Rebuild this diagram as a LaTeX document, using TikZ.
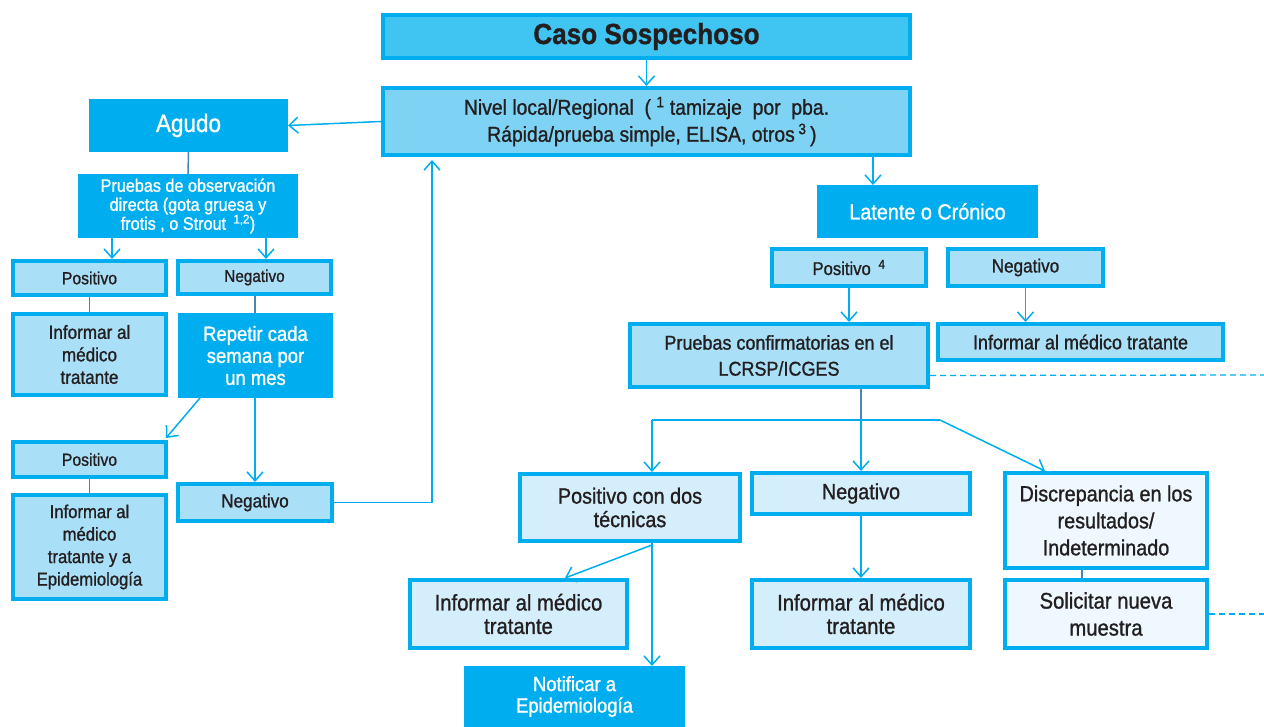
\documentclass[tikz,border=0pt]{standalone}
\usepackage{fontspec}
\setmainfont[FakeStretch=0.9,FakeBold=1.1]{Liberation Sans}
\usetikzlibrary{arrows.meta,calc}
\definecolor{cyanD}{HTML}{00AEEF}
\definecolor{casoF}{HTML}{40C4F2}
\definecolor{nivelF}{HTML}{7ED3F5}
\definecolor{lightF}{HTML}{A9E0F8}
\definecolor{lighterF}{HTML}{D5EEFB}
\definecolor{lightestF}{HTML}{EEF8FE}
\definecolor{stemC}{HTML}{4A86B4}
\definecolor{ink}{HTML}{231F20}
\newcommand\fs[2]{\fontsize{#1}{#2}\selectfont}
\tikzset{
  base/.style={rectangle, align=center, inner sep=2pt, text=ink, draw=cyanD, line width=4pt},
  solidbox/.style={base, fill=cyanD, text=white, line width=0pt, draw=none},
  lbox/.style={base, fill=lightF},
  mbox/.style={base, fill=lighterF},
  pbox/.style={base, fill=lightestF},
  arr/.style={draw=cyanD, line width=1.5pt, -{Straight Barb[length=9pt,width=16pt,line width=1.5pt]}},
  link/.style={draw=cyanD, line width=1.5pt},
  stem/.style={draw=stemC, line width=1.5pt},
  dashlink/.style={draw=cyanD, line width=1.3pt, dash pattern=on 6pt off 4pt},
}
\begin{document}
\begin{tikzpicture}[x=1pt,y=-1pt]
\useasboundingbox (0,0) rectangle (1264,727);

% top of the chart
\node[base, fill=casoF, minimum width=527pt, minimum height=43pt, font=\bfseries\fs{29}{31}] (caso) at (646.5,36.5) {Caso Sospechoso};
\node[base, fill=nivelF, minimum width=527pt, minimum height=67pt, font=\fs{21.5}{27}] (nivel) at (646.5,121.5)
  {Nivel local/Regional \ ( \textsuperscript{1} tamizaje \ por \ pba.\\\ \ Rápida/prueba simple, ELISA, otros\,\textsuperscript{3}\,)};

% acute branch
\node[solidbox, minimum width=199pt, minimum height=53pt, font=\fs{25}{27}] (agudo) at (188.5,125.5) {Agudo};
\node[solidbox, minimum width=220pt, minimum height=64pt, font=\fs{18}{19}] (pobs) at (188,206)
  {Pruebas de observación\\directa (gota gruesa y\\frotis , o Strout \,\textsuperscript{1,2})};
\node[lbox, minimum width=153pt, minimum height=34pt, font=\fs{17.5}{19}] (pos1) at (89.5,278) {Positivo};
\node[lbox, minimum width=153pt, minimum height=33pt, font=\fs{17}{19}] (neg1) at (254.5,277.5) {Negativo};
\node[lbox, minimum width=153pt, minimum height=81pt, font=\fs{19}{22.5}] (inf1) at (89.5,354.5) {Informar al\\médico\\tratante};
\node[solidbox, minimum width=155pt, minimum height=85pt, font=\fs{20.5}{22}] (rep) at (255.5,355.5) {Repetir cada\\semana por\\un mes};
\node[lbox, minimum width=153pt, minimum height=35pt, font=\fs{17.5}{19}] (pos2) at (89.5,459.5) {Positivo};
\node[lbox, minimum width=154pt, minimum height=37pt, font=\fs{19}{21}] (neg2) at (255,502.5) {Negativo};
\node[lbox, minimum width=153pt, minimum height=104pt, font=\fs{18.5}{22.5}] (inf2) at (89.5,547) {Informar al\\médico\\tratante y a\\Epidemiología};

% latent / chronic branch
\node[solidbox, minimum width=221pt, minimum height=53pt, font=\fs{22}{24}] (lat) at (927.5,211.5) {Latente o Crónico};
\node[lbox, minimum width=154pt, minimum height=37pt, font=\fs{18.5}{20}] (pos4) at (849,267.5) {Positivo \,\textsuperscript{4}};
\node[lbox, minimum width=155pt, minimum height=37pt, font=\fs{19}{20}] (neg4) at (1025.5,267.5) {Negativo};
\node[lbox, minimum width=298pt, minimum height=63pt, font=\fs{20}{26}] (pconf) at (779,355.5) {Pruebas confirmatorias en el\\LCRSP/ICGES};
\node[lbox, minimum width=285pt, minimum height=36pt, font=\fs{20}{22}] (inf4) at (1080.5,342) {Informar al médico tratante};
\node[mbox, minimum width=220pt, minimum height=67pt, font=\fs{22}{23.5}] (pdos) at (630,507.5) {Positivo con dos\\técnicas};
\node[mbox, minimum width=218pt, minimum height=41pt, font=\fs{22}{24}] (negm) at (861,493.5) {Negativo};
\node[pbox, minimum width=202pt, minimum height=95pt, font=\fs{22}{27}] (disc) at (1106,520.5) {Discrepancia en los\\resultados/\\Indeterminado};
\node[mbox, minimum width=217pt, minimum height=68pt, font=\fs{22.5}{23.5}] (infa) at (518.5,614) {Informar al médico\\tratante};
\node[mbox, minimum width=218pt, minimum height=68pt, font=\fs{22.5}{23.5}] (infb) at (861,614) {Informar al médico\\tratante};
\node[pbox, minimum width=202pt, minimum height=68pt, font=\fs{22.5}{27}] (sol) at (1106,614) {Solicitar nueva\\muestra};
\node[solidbox, minimum width=221pt, minimum height=61pt, font=\fs{20.5}{21.5}] (notif) at (574.5,696.5) {Notificar a\\Epidemiología};

% junctions and free ends
\coordinate (jl) at (652,420);
\coordinate (jr) at (940,420);
\coordinate (dashA) at (1264,375);
\coordinate (dashB) at (1264,614);
\coordinate (pdsplit) at (652,545);

% connectors
\draw[arr] (caso.south) -- (nivel.north);
\draw[arr] (nivel.west) -- (agudo.east);
\draw[stem] (agudo.south) -- (pobs.north);
\draw[arr] ([xshift=-76pt]pobs.south) -- ([xshift=22.5pt]pos1.north);
\draw[arr] ([xshift=78pt]pobs.south) -- ([xshift=11.5pt]neg1.north);
\draw[stem] (pos1.south) -- (inf1.north);
\draw[stem] ([xshift=0.5pt]neg1.south) -- ([xshift=-0.5pt]rep.north);
\draw[arr] ([xshift=-55.5pt]rep.south) -- ([xshift=-2pt,yshift=2pt]pos2.north east);
\draw[arr] ([xshift=-0.5pt]rep.south) -- (neg2.north);
\draw[stem] (pos2.south) -- (inf2.north);
\draw[arr] (neg2.east) -| ([xshift=-214.5pt,yshift=-3pt]nivel.south);

\draw[arr] ([xshift=226.5pt]nivel.south) -- ([xshift=-54.5pt]lat.north);
\draw[arr] (pos4.south) -- (pos4.south |- pconf.north);
\draw[arr] (neg4.south) -- (neg4.south |- inf4.north);
\draw[dashlink] ([yshift=-20pt]pconf.east) -- (dashA);

\draw[stem] (pconf.south -| negm.north) -- (jl -| negm.north);
\draw[arr] (jl -| negm.north) -- (negm.north);
\draw[link] (jl) -- (jr);
\draw[arr] (jl) -- (jl |- pdos.north);
\draw[arr] (jr) -- ([xshift=-61pt]disc.north);
\draw[arr] (negm.south) -- (infb.north);

\draw[link] ([xshift=22pt]pdos.south) -- (pdsplit);
\draw[arr] (pdsplit) -- ([xshift=77.5pt]notif.north);
\draw[arr] (pdsplit) -- ([xshift=46.5pt]infa.north);
\draw[stem] ([xshift=-24pt]disc.south) -- ([xshift=-24pt]sol.north);
\draw[dashlink] (sol.east) -- (dashB);
\end{tikzpicture}
\end{document}
